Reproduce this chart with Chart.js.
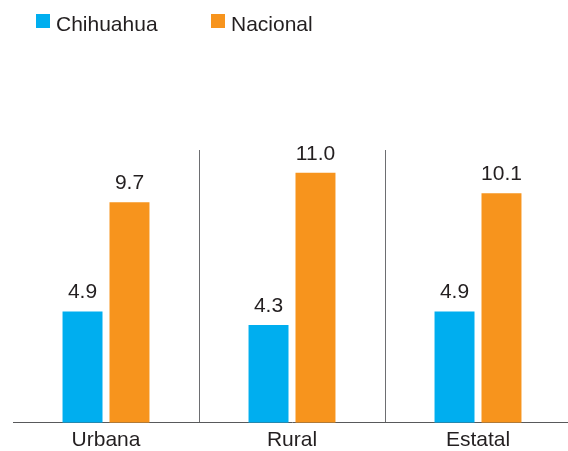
<!DOCTYPE html>
<html>
<head>
<meta charset="utf-8">
<script src="https://cdn.jsdelivr.net/npm/chart.js@4.4.1/dist/chart.umd.min.js"></script>
<style>
  html, body { margin: 0; padding: 0; background: #fff; overflow: hidden; }
  body { width: 568px; height: 451px; position: relative; }
  #wrap { position: absolute; left: 0; top: 0; width: 572px; height: 451px; }
  .legend { position: absolute; top: 13px; font: 21px "Liberation Sans", Arial, sans-serif; line-height: 21px; color: #231f20; }
  .legend i { position: absolute; top: 1px; width: 14px; height: 14px; }
  .legend span { position: absolute; white-space: nowrap; }
</style>
</head>
<body>
<div id="wrap"><canvas id="chart" width="572" height="451"></canvas></div>
<div class="legend" id="legend"></div>
<script>
const categories = ["Urbana", "Rural", "Estatal"];
const seriesNames = ["Chihuahua", "Nacional"];
const chihuahua = [4.9, 4.3, 4.9];
const nacional = [9.7, 11.0, 10.1];
const colors = ["#00aeef", "#f7941d"];

// legend drawn as html so the item spacing matches
const legendPos = [36, 211];
const legend = document.getElementById("legend");
seriesNames.forEach((name, i) => {
  const box = document.createElement("i");
  box.style.left = legendPos[i] + "px";
  box.style.background = colors[i];
  const txt = document.createElement("span");
  txt.style.left = (legendPos[i] + 20) + "px";
  txt.textContent = name;
  legend.appendChild(box);
  legend.appendChild(txt);
});

const valueLabels = {
  id: "valueLabels",
  afterDatasetsDraw(chart) {
    const ctx = chart.ctx;
    ctx.save();
    ctx.font = '21px "Liberation Sans", Arial, sans-serif';
    ctx.fillStyle = "#231f20";
    ctx.textAlign = "center";
    ctx.textBaseline = "alphabetic";
    chart.data.datasets.forEach((ds, di) => {
      chart.getDatasetMeta(di).data.forEach((bar, i) => {
        ctx.fillText(ds.data[i].toFixed(1), bar.x, bar.y - 13);
      });
    });
    ctx.restore();
  }
};

new Chart(document.getElementById("chart").getContext("2d"), {
  type: "bar",
  data: {
    labels: categories,
    datasets: [
      { label: seriesNames[0], data: chihuahua, backgroundColor: colors[0] },
      { label: seriesNames[1], data: nacional, backgroundColor: colors[1] }
    ]
  },
  options: {
    responsive: false,
    animation: false,
    categoryPercentage: 0.505,
    barPercentage: 0.851,
    layout: { padding: { top: 150, left: 13, right: 1, bottom: -7 } },
    plugins: {
      legend: { display: false },
      tooltip: { enabled: false }
    },
    scales: {
      x: {
        grid: {
          offset: true,
          drawTicks: false,
          lineWidth: 1,
          color: ctx => (ctx.index === 1 || ctx.index === 2) ? "#6d6e71" : "rgba(0,0,0,0)"
        },
        border: { display: true, color: "#58595b", width: 1 },
        ticks: {
          padding: 5,
          color: "#231f20",
          font: { family: '"Liberation Sans", Arial, sans-serif', size: 21 }
        }
      },
      y: {
        display: false,
        min: 0,
        max: 12
      }
    }
  },
  plugins: [valueLabels]
});
</script>
</body>
</html>
